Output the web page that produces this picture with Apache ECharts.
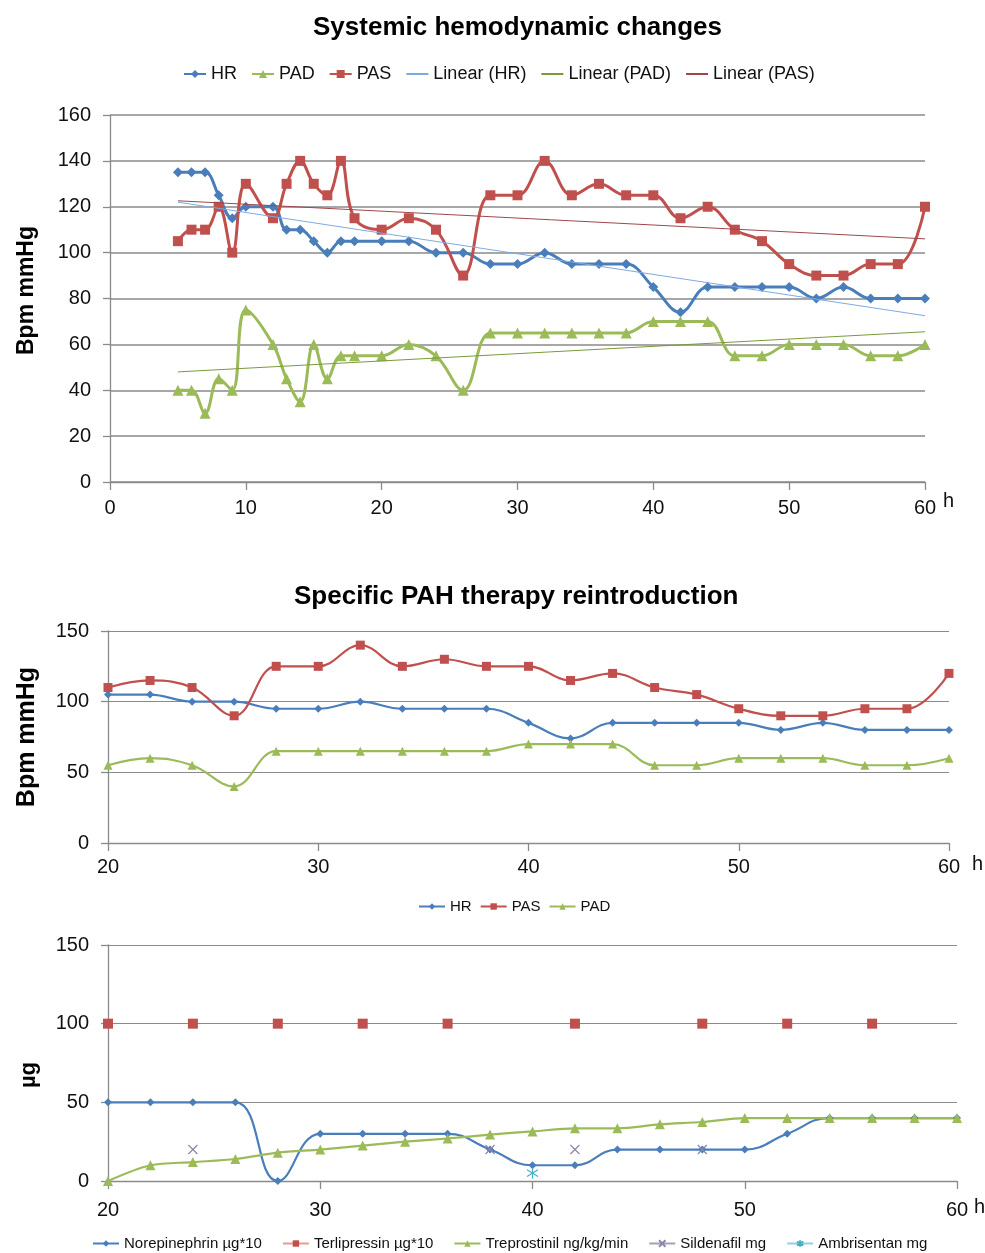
<!DOCTYPE html>
<html>
<head>
<meta charset="utf-8">
<title>PAH charts</title>
<script src="https://cdn.jsdelivr.net/npm/echarts@6/dist/echarts.min.js"></script>
<style>
  body { margin: 0; background: #fff; }
  .box { position: absolute; left: 0; width: 985px; }
</style>
</head>
<body>
<div id="c1" class="box" style="top:0;height:540px"></div>
<div id="c2" class="box" style="top:540px;height:380px"></div>
<div id="c3" class="box" style="top:920px;height:333px"></div>
<script>
// hemodynamics (hours after admission)
var hours = [5, 6, 7, 8, 9, 10, 12, 13, 14, 15, 16, 17, 18, 20, 22, 24, 26, 28, 30, 32, 34, 36, 38, 40, 42, 44, 46, 48, 50, 52, 54, 56, 58, 60];
var hr  = [135, 135, 135, 125, 115, 120, 120, 110, 110, 105, 100, 105, 105, 105, 105, 100, 100, 95, 95, 100, 95, 95, 95, 85, 74, 85, 85, 85, 85, 80, 85, 80, 80, 80];
var pas = [105, 110, 110, 120, 100, 130, 115, 130, 140, 130, 125, 140, 115, 110, 115, 110, 90, 125, 125, 140, 125, 130, 125, 125, 115, 120, 110, 105, 95, 90, 90, 95, 95, 120];
var pad = [40, 40, 30, 45, 40, 75, 60, 45, 35, 60, 45, 55, 55, 55, 60, 55, 40, 65, 65, 65, 65, 65, 65, 70, 70, 70, 55, 55, 60, 60, 60, 55, 55, 60];

// trend lines (end points)
var trendHours = [5, 60];
var trendHR  = [122, 72.5];
var trendPAD = [48, 65.5];
var trendPAS = [122.6, 106];

// drugs
var doseHours = [20, 22, 24, 26, 28, 30, 32, 34, 36, 38, 40, 42, 44, 46, 48, 50, 52, 54, 56, 58, 60];
var norepi = [50, 50, 50, 50, 0, 30, 30, 30, 30, 20, 10, 10, 20, 20, 20, 20, 30, 40, 40, 40, 40];
var trepro = [0, 10, 12, 14, 18, 20, 22.5, 25, 27, 29.5, 31.5, 33.5, 33.5, 36, 37.5, 40, 40, 40, 40, 40, 40];
var terliHours = [20, 24, 28, 32, 36, 42, 48, 52, 56];
var terli = [100, 100, 100, 100, 100, 100, 100, 100, 100];
var sildHours = [24, 38, 42, 48];
var sild = [20, 20, 20, 20];
var ambriHours = [40];
var ambri = [5];

var BLUE = '#4A7EBB', RED = '#C0504D', GREEN = '#9BBB59';
var FONT = 'Liberation Sans, Arial, sans-serif';

function pts(xs, ys, from) {
    var out = [];
    xs.forEach(function (x, i) {
        if (from === undefined || x >= from) out.push([x, ys[i]]);
    });
    return out;
}

function xAxisOpt(min, margin, gap, pad) {
    return {
        type: 'value', min: min, max: 60, interval: 10,
        name: 'h', nameLocation: 'end', nameGap: gap,
        nameTextStyle: { fontFamily: FONT, fontSize: 20, color: '#111', verticalAlign: 'top', padding: [pad, 0, 0, 0] },
        axisLine: { lineStyle: { color: '#8a8a8a', width: 1.3 } },
        axisTick: { show: true, length: 8, lineStyle: { color: '#8a8a8a', width: 1.3 } },
        axisLabel: { fontFamily: FONT, fontSize: 20, color: '#111', margin: margin },
        splitLine: { show: false }
    };
}

function yAxisOpt(max, interval, name, nameSize, gap, gridW, namePad) {
    return {
        type: 'value', min: 0, max: max, interval: interval,
        name: name, nameLocation: 'middle', nameRotate: 90, nameGap: gap,
        nameTextStyle: { fontFamily: FONT, fontSize: nameSize, fontWeight: 'bold', color: '#000', padding: namePad },
        axisLine: { show: true, lineStyle: { color: '#8a8a8a', width: 1.3 } },
        axisTick: { show: true, length: 7, lineStyle: { color: '#8a8a8a', width: 1.3 } },
        axisLabel: { fontFamily: FONT, fontSize: 20, color: '#111', margin: 19 },
        splitLine: { show: true, lineStyle: { color: '#8a8a8a', width: gridW } }
    };
}

function lineSeries(name, data, color, symbol, size, width, smooth) {
    return {
        name: name, type: 'line', data: data, smooth: smooth,
        symbol: symbol, symbolSize: size, showAllSymbol: true,
        lineStyle: { color: color, width: width },
        itemStyle: { color: color },
        emphasis: { disabled: true },
        z: 3
    };
}

function trendSeries(name, data, color) {
    return {
        name: name, type: 'line', data: data, symbol: 'none',
        lineStyle: { color: color, width: 1 },
        itemStyle: { color: color },
        emphasis: { disabled: true },
        z: 4
    };
}

// ---- chart 1: systemic hemodynamic changes
var chart1 = echarts.init(document.getElementById('c1'));
chart1.setOption({
    animation: false,
    title: {
        text: 'Systemic hemodynamic changes', left: 308, top: 10,
        textStyle: { fontFamily: FONT, fontSize: 26, fontWeight: 'bold', color: '#000' }
    },
    legend: {
        left: 178, top: 60, itemWidth: 22, itemHeight: 10, itemGap: 14,
        textStyle: { fontFamily: FONT, fontSize: 18, color: '#111' },
        data: ['HR', 'PAD', 'PAS',
            { name: 'Linear (HR)', itemStyle: { opacity: 0 } },
            { name: 'Linear (PAD)', itemStyle: { opacity: 0 } },
            { name: 'Linear (PAS)', itemStyle: { opacity: 0 } }]
    },
    grid: { left: 110, top: 115, width: 815, height: 367, containLabel: false, outerBoundsMode: 'none' },
    xAxis: xAxisOpt(0, 16, 18, 9),
    yAxis: yAxisOpt(160, 20, 'Bpm mmHg', 23, 72, 1.6, [0, 0, 0, 16]),
    series: [
        lineSeries('HR', pts(hours, hr), BLUE, 'diamond', 10, 3, 0.4),
        lineSeries('PAD', pts(hours, pad), GREEN, 'triangle', 11, 3, 0.4),
        lineSeries('PAS', pts(hours, pas), RED, 'rect', 10, 3, 0.4),
        trendSeries('Linear (HR)', pts(trendHours, trendHR), '#7EAAE0'),
        trendSeries('Linear (PAD)', pts(trendHours, trendPAD), '#7A9A3A'),
        trendSeries('Linear (PAS)', pts(trendHours, trendPAS), '#A0464A')
    ]
});

// ---- chart 2: specific PAH therapy reintroduction
var chart2 = echarts.init(document.getElementById('c2'));
chart2.setOption({
    animation: false,
    title: {
        text: 'Specific PAH therapy reintroduction', left: 289, top: 39,
        textStyle: { fontFamily: FONT, fontSize: 26, fontWeight: 'bold', color: '#000' }
    },
    legend: {
        left: 413, top: 354, itemWidth: 26, itemHeight: 8, itemGap: 8,
        textStyle: { fontFamily: FONT, fontSize: 15, color: '#111' },
        data: ['HR', 'PAS', 'PAD']
    },
    grid: { left: 108, top: 91, width: 841, height: 212, containLabel: false, outerBoundsMode: 'none' },
    xAxis: xAxisOpt(20, 14, 23, 11),
    yAxis: yAxisOpt(150, 50, 'Bpm mmHg', 25, 68, 1.2, 0),
    series: [
        lineSeries('HR', pts(hours, hr, 20), BLUE, 'diamond', 8, 2.2, 0.4),
        lineSeries('PAS', pts(hours, pas, 20), RED, 'rect', 9, 2.2, 0.4),
        lineSeries('PAD', pts(hours, pad, 20), GREEN, 'triangle', 9, 2.2, 0.4)
    ]
});

// ---- chart 3: drug doses
var XSYM = 'path://M0,0L10,10M10,0L0,10';
var ASYM = 'path://M5,0L5,10M1,2L9,8M9,2L1,8';
var chart3 = echarts.init(document.getElementById('c3'));
chart3.setOption({
    animation: false,
    legend: {
        left: 87, top: 311, itemWidth: 26, itemHeight: 8, itemGap: 20,
        textStyle: { fontFamily: FONT, fontSize: 15, color: '#111' },
        lineStyle: { opacity: 1 },
        data: ['Norepinephrin \u00b5g*10', 'Terlipressin \u00b5g*10', 'Treprostinil ng/kg/min', 'Sildenafil mg', 'Ambrisentan mg']
    },
    grid: { left: 108, top: 25, width: 849, height: 236, containLabel: false, outerBoundsMode: 'none' },
    xAxis: xAxisOpt(20, 19, 17, 16),
    yAxis: yAxisOpt(150, 50, '\u00b5g', 22, 68, 1.2, [0, 24, 0, 0]),
    series: [
        lineSeries('Norepinephrin \u00b5g*10', pts(doseHours, norepi), BLUE, 'diamond', 8, 2.2, 0.45),
        {
            name: 'Terlipressin \u00b5g*10', type: 'line', data: pts(terliHours, terli),
            symbol: 'rect', symbolSize: 10,
            lineStyle: { color: '#E39A98', width: 2, opacity: 0 },
            itemStyle: { color: RED }, emphasis: { disabled: true }, z: 3
        },
        lineSeries('Treprostinil ng/kg/min', pts(doseHours, trepro), GREEN, 'triangle', 10, 2.2, 0.3),
        {
            name: 'Sildenafil mg', type: 'line', data: pts(sildHours, sild),
            symbol: XSYM, symbolSize: 9,
            lineStyle: { color: '#A5A0B5', width: 2, opacity: 0 },
            itemStyle: { color: 'transparent', borderColor: '#8E84A8', borderWidth: 1.2 },
            emphasis: { disabled: true }, z: 5
        },
        {
            name: 'Ambrisentan mg', type: 'line', data: pts(ambriHours, ambri),
            symbol: ASYM, symbolSize: 11,
            lineStyle: { color: '#8FD0E0', width: 2, opacity: 0 },
            itemStyle: { color: 'transparent', borderColor: '#4BACC6', borderWidth: 1.2 },
            emphasis: { disabled: true }, z: 5
        }
    ]
});
</script>
</body>
</html>
